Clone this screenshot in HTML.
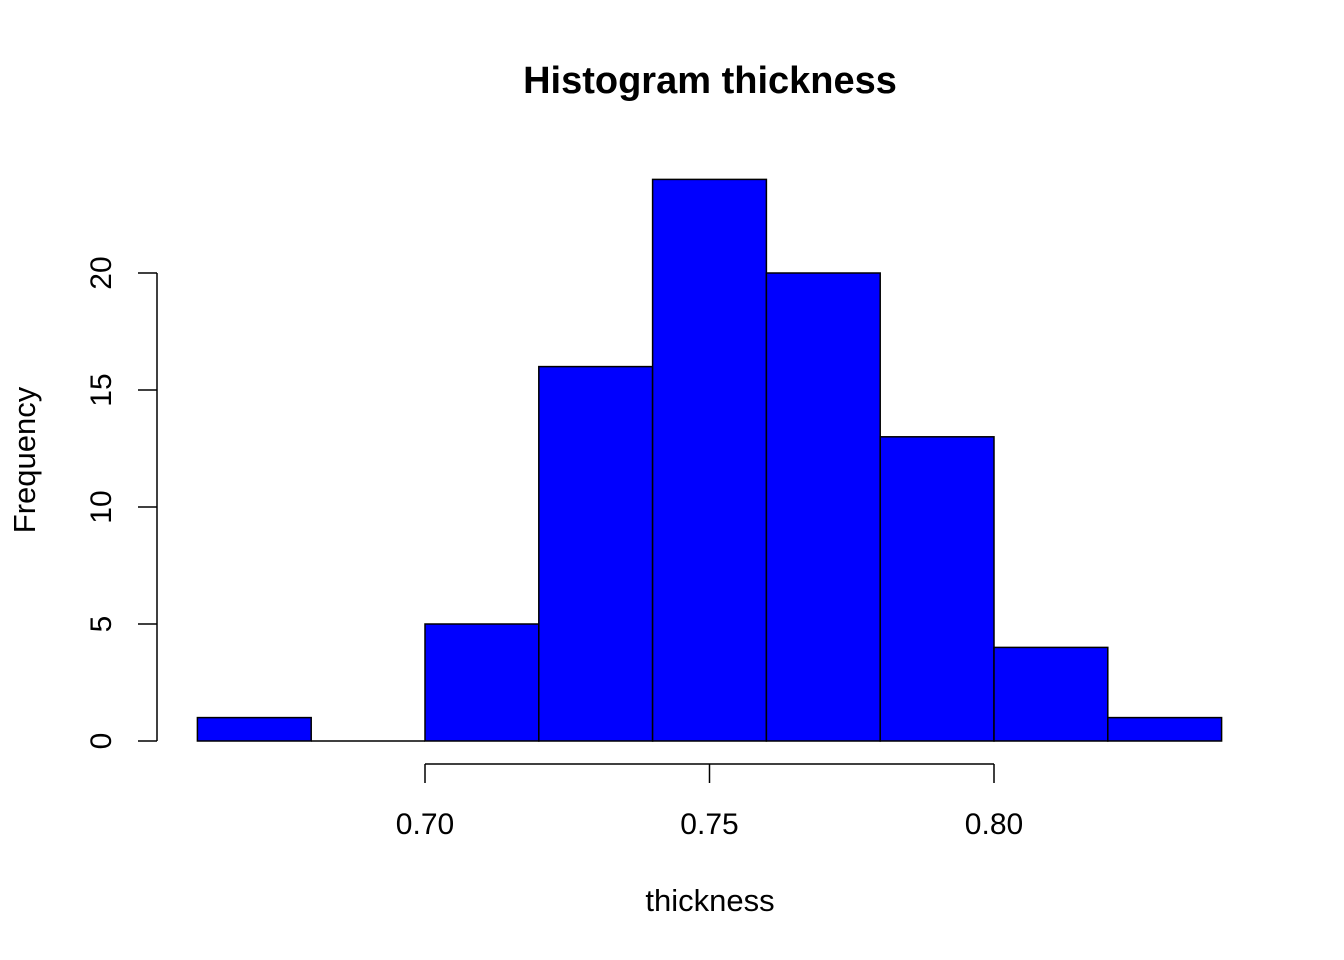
<!DOCTYPE html>
<html><head><meta charset="utf-8"><style>body{margin:0;background:#fff}svg{display:block}text{font-family:"Liberation Sans",Arial,sans-serif;fill:#000}</style></head>
<body>
<svg id="c" width="1344" height="960" xmlns="http://www.w3.org/2000/svg">
<rect width="1344" height="960" fill="#fff"/>
<text x="710" y="93" font-size="38" font-weight="bold" text-anchor="middle">Histogram thickness</text>
<text x="710" y="911" font-size="31" text-anchor="middle">thickness</text>
<text transform="translate(35,460) rotate(-90)" font-size="31" text-anchor="middle">Frequency</text>
<g id="bars"></g><g id="xaxis"></g><g id="yaxis"></g>
</svg>
<script>
const binEdges=[0.66,0.68,0.70,0.72,0.74,0.76,0.78,0.80,0.82,0.84];
const counts=[1,0,5,16,24,20,13,4,1];
const xTicks=[0.70,0.75,0.80];
const xTickLabels=["0.70","0.75","0.80"];
const yTicks=[0,5,10,15,20];
const yTickLabels=["0","5","10","15","20"];
const NS="http://www.w3.org/2000/svg";
const xs=v=>425+(v-0.70)*5690;
const ys=v=>741-v*23.4;
function mk(t,a,p){const e=document.createElementNS(NS,t);for(const k in a)e.setAttribute(k,a[k]);p.appendChild(e);return e;}
const bars=document.getElementById('bars');
counts.forEach((c,i)=>{
 const x0=xs(binEdges[i]),x1=xs(binEdges[i+1]);
 let r;
 if(c===0){
  r=mk('line',{x1:x0,x2:x1,y1:ys(0),y2:ys(0),stroke:'#000','stroke-width':1.5},bars);
 } else {
  r=mk('rect',{x:x0,y:ys(c),width:x1-x0,height:ys(0)-ys(c),fill:'#0000ff',stroke:'#000','stroke-width':1.5},bars);
 }
 
 
});
const xa=document.getElementById('xaxis');


mk('line',{x1:xs(xTicks[0]),x2:xs(xTicks[xTicks.length-1]),y1:764,y2:764,stroke:'#000','stroke-width':1.5},xa);
xTicks.forEach((v,i)=>{
 mk('line',{x1:xs(v),x2:xs(v),y1:764,y2:783,stroke:'#000','stroke-width':1.5},xa);
 const t=mk('text',{x:xs(v),y:834,'font-size':30,'text-anchor':'middle'},xa);t.textContent=xTickLabels[i];
 
 
});
const ya=document.getElementById('yaxis');


mk('line',{x1:157,x2:157,y1:ys(yTicks[0]),y2:ys(yTicks[yTicks.length-1]),stroke:'#000','stroke-width':1.5},ya);
yTicks.forEach((v,i)=>{
 mk('line',{x1:138,x2:157,y1:ys(v),y2:ys(v),stroke:'#000','stroke-width':1.5},ya);
 const t=mk('text',{transform:`translate(111,${ys(v)}) rotate(-90)`,'font-size':30,'text-anchor':'middle'},ya);t.textContent=yTickLabels[i];
 
 
});
</script>
</body></html>
